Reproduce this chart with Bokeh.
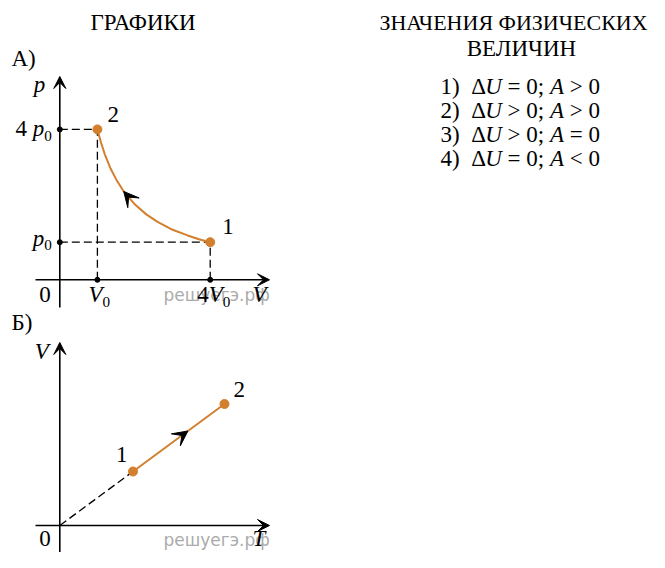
from bokeh.plotting import figure
from bokeh.models import Range1d, Arrow, VeeHead
from bokeh.core.properties import value
from bokeh.embed import file_html
from bokeh.resources import INLINE

# ---------------- data ----------------
# Graph A: p-V diagram (units of V0 and p0), process 1 -> 2
a_curve_V = [4.0, 3.7, 3.4, 3.0, 2.6, 2.3, 2.0, 1.7, 1.5, 1.35, 1.2, 1.1, 1.0]
a_curve_p = [1.0, 1.08, 1.18, 1.33, 1.54, 1.74, 2.0, 2.35, 2.67, 2.96, 3.33, 3.64, 4.0]
a_state_V = [4.0, 1.0]
a_state_p = [1.0, 4.0]
a_state_labels = ["1", "2"]
a_tick_V = [1.0, 4.0]
a_tick_p = [1.0, 4.0]

# Graph B: V-T diagram, process 1 -> 2
b_state_T = [2.0, 4.5]
b_state_V = [1.5, 3.375]
b_state_labels = ["1", "2"]

# Right column
left_title = "ГРАФИКИ"
right_title = ["ЗНАЧЕНИЯ ФИЗИЧЕСКИХ", "ВЕЛИЧИН"]
answer_numbers = ["1)", "2)", "3)", "4)"]
dU_relations = ["=", ">", ">", "="]
work_relations = [">", ">", "=", "<"]
watermark = "решуегэ.рф"

# ---------------- layout ----------------
W, H = 649, 552
SERIF = "Liberation Serif"
ORANGE = "#d27f2e"
FS = 23
BASE_SHIFT = -0.35          # empirical baseline correction (in em)
A_OX, A_OY, A_SX, A_SY = 59.3, 279.3, 37.6, 37.6
B_OX, B_OY, B_SX, B_SY = 59.3, 525.0, 36.6, 36.0


def ax(v): return A_OX + A_SX * v
def ay(v): return A_OY - A_SY * v
def bx(v): return B_OX + B_SX * v
def by(v): return B_OY - B_SY * v


p = figure(width=W, height=H, x_range=Range1d(0, W), y_range=Range1d(H, 0),
           output_backend="svg", toolbar_location=None, min_border=0,
           x_axis_type=None, y_axis_type=None)
p.grid.visible = False
p.outline_line_color = None
p.background_fill_color = "white"
p.border_fill_color = "white"

p.extra_x_ranges = {
    "A": Range1d(-A_OX / A_SX, (W - A_OX) / A_SX),
    "B": Range1d(-B_OX / B_SX, (W - B_OX) / B_SX),
}
p.extra_y_ranges = {
    "A": Range1d((A_OY - H) / A_SY, A_OY / A_SY),
    "B": Range1d((B_OY - H) / B_SY, B_OY / B_SY),
}
RA = dict(x_range_name="A", y_range_name="A")
RB = dict(x_range_name="B", y_range_name="B")

# watermarks (beneath everything)
WM = 17
for yb in (A_OY + 21, B_OY + 20):
    p.text(x=[163], y=[yb + BASE_SHIFT * WM], text=[watermark],
           text_font=value("DejaVu Sans"), text_font_size=f"{WM}px",
           text_color="#ababab", text_baseline="alphabetic", text_align="left")


def axis_arrow(x0, y0, x1, y1, rng):
    p.add_layout(Arrow(end=VeeHead(size=12, fill_color="black", line_color="black",
                                   line_width=1),
                       x_start=x0, y_start=y0, x_end=x1, y_end=y1,
                       line_color="black", line_width=1.6, **rng))


# ---------- Graph A ----------
DASH = dict(line_color="black", line_width=1.3, line_dash="8 4")
p.segment(x0=[0, 0], y0=a_state_p, x1=a_state_V, y1=a_state_p, **DASH, **RA)
p.segment(x0=a_state_V, y0=[0, 0], x1=a_state_V, y1=a_state_p, **DASH, **RA)
axis_arrow((35 - A_OX) / A_SX, 0, (269 - A_OX) / A_SX, 0, RA)
axis_arrow(0, (A_OY - 307) / A_SY, 0, (A_OY - 76) / A_SY, RA)
p.line(a_curve_V, a_curve_p, line_color=ORANGE, line_width=2, **RA)
p.add_layout(Arrow(end=VeeHead(size=15, fill_color="black", line_color="black", line_width=1),
                   x_start=a_curve_V[6], y_start=a_curve_p[6],
                   x_end=a_curve_V[7], y_end=a_curve_p[7], line_alpha=0, **RA))
p.scatter([0, 0], a_tick_p, size=5, color="black", **RA)
p.scatter(a_tick_V, [0, 0], size=5, color="black", **RA)
p.scatter(a_state_V, a_state_p, size=9, color=ORANGE, **RA)

# ---------- Graph B ----------
B_TOP = B_OY - 183          # arrow tip of the V axis
p.segment(x0=[0], y0=[0], x1=[b_state_T[0]], y1=[b_state_V[0]], **DASH, **RB)
axis_arrow((35 - B_OX) / B_SX, 0, (269 - B_OX) / B_SX, 0, RB)
axis_arrow(0, (B_OY - H - 5) / B_SY, 0, (B_OY - B_TOP) / B_SY, RB)
p.line(b_state_T, b_state_V, line_color=ORANGE, line_width=2, **RB)
t0, t1 = 0.47, 0.6
p.add_layout(Arrow(end=VeeHead(size=15, fill_color="black", line_color="black", line_width=1),
                   x_start=b_state_T[0] + t0 * (b_state_T[1] - b_state_T[0]),
                   y_start=b_state_V[0] + t0 * (b_state_V[1] - b_state_V[0]),
                   x_end=b_state_T[0] + t1 * (b_state_T[1] - b_state_T[0]),
                   y_end=b_state_V[0] + t1 * (b_state_V[1] - b_state_V[0]),
                   line_alpha=0, **RB))
p.scatter(b_state_T, b_state_V, size=9, color=ORANGE, **RB)

# ---------- texts ----------
W_REG = {')': .333, ';': .278, '=': .564, '>': .564, '<': .564, 'Δ': .612, ' ': .25}
W_IT = {'U': .722, 'A': .611, 'p': .5, 'V': .611, 'T': .556}
SUB = 0.66


def put(x, y, parts, size=FS, align="left"):
    sizes, widths = [], []
    for t, k in parts:
        sz = size * SUB if k == "s" else size
        table = W_IT if k == "i" else W_REG
        sizes.append(sz)
        widths.append(sum(table.get(c, .5) for c in t) * sz)
    total = sum(widths)
    if align == "right":
        x -= total
    elif align == "center":
        x -= total / 2
    for (t, k), sz, w in zip(parts, sizes, widths):
        if t.strip():
            yy = y + size * 0.2 if k == "s" else y
            p.text(x=[x], y=[yy + BASE_SHIFT * sz], text=[t], text_font=value(SERIF),
                   text_font_style="italic" if k == "i" else "normal",
                   text_font_size=f"{sz:.1f}px", text_align="left",
                   text_baseline="alphabetic", text_color="black")
        x += w


# headers
for cx, cy, t, fs in [(142.5, 30, left_title, FS), (513, 30, right_title[0], 22),
                      (521, 56, right_title[1], FS)]:
    p.text(x=[cx], y=[cy + BASE_SHIFT * fs], text=[t], text_font=value(SERIF),
           text_font_size=f"{fs}px", text_align="center", text_baseline="alphabetic",
           text_color="black")

for i, (num, r1, r2) in enumerate(zip(answer_numbers, dU_relations, work_relations)):
    put(440, 94 + 24 * i, [(num, "r"), ("  ", "r"), ("Δ", "r"), ("U", "i"), (" ", "r"),
                           (f"{r1} 0;", "r"), (" ", "r"), ("A", "i"), (" ", "r"), (f"{r2} 0", "r")])

# graph A labels
put(11, 66, [("А)", "r")])
put(A_OX - 26, 92, [("p", "i")])
put(A_OX - 8, ay(a_tick_p[1]) + 7, [("4", "r"), (" ", "r"), ("p", "i"), ("0", "s")], align="right")
put(A_OX - 8, ay(a_tick_p[0]) + 4, [("p", "i"), ("0", "s")], align="right")
put(A_OX - 9, A_OY + 23, [("0", "r")], align="right")
put(ax(a_tick_V[0]) - 9, A_OY + 23, [("V", "i"), ("0", "s")])
put(ax(a_tick_V[1]) - 13, A_OY + 23, [("4", "r"), ("V", "i"), ("0", "s")])
put(252, A_OY + 23, [("V", "i")])
put(ax(a_state_V[0]) + 12, ay(a_state_p[0]) - 8, [(a_state_labels[0], "r")])
put(ax(a_state_V[1]) + 10, ay(a_state_p[1]) - 7, [(a_state_labels[1], "r")])

# graph B labels
put(11, B_TOP - 12, [("Б)", "r")])
put(B_OX - 25, B_TOP + 17, [("V", "i")])
put(B_OX - 9, B_OY + 21, [("0", "r")], align="right")
put(252, B_OY + 21, [("T", "i")])
put(bx(b_state_T[0]) - 17, by(b_state_V[0]) - 9, [(b_state_labels[0], "r")])
put(bx(b_state_T[1]) + 9, by(b_state_V[1]) - 6, [(b_state_labels[1], "r")])

open("out.html", "w").write(file_html(p, INLINE))
